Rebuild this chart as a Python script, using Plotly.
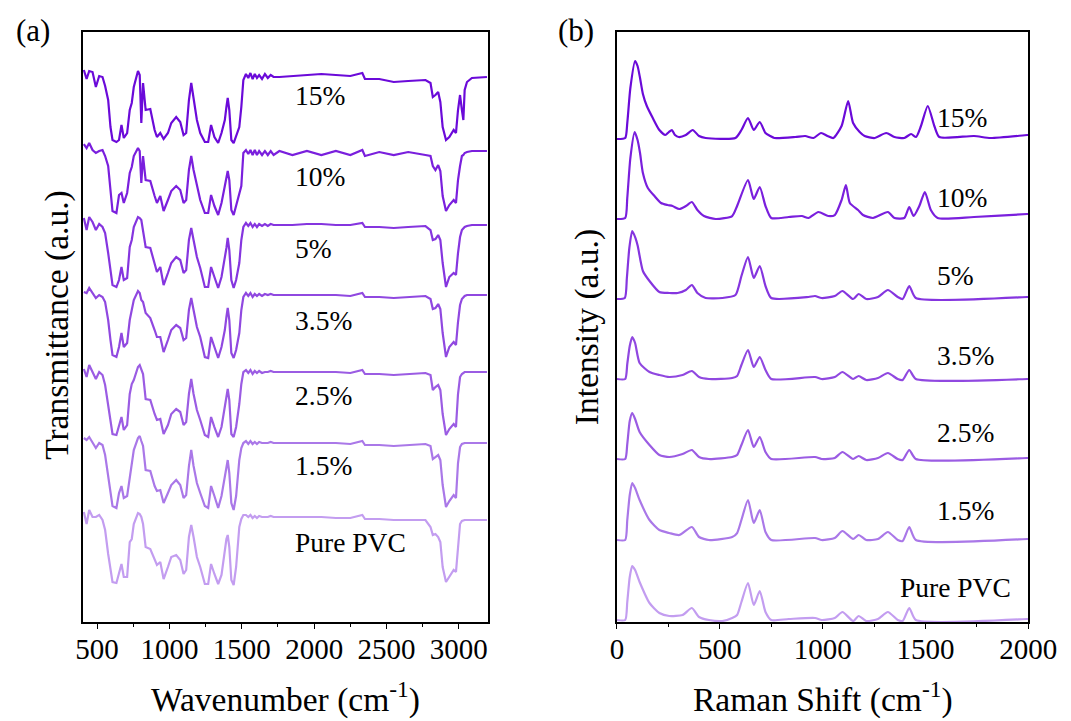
import plotly.graph_objects as go

# ---------------- data ----------------
labels = ["Pure PVC", "1.5%", "2.5%", "3.5%", "5%", "10%", "15%"]
colors = ["#C39DF0", "#AA78E8", "#9B5CE3", "#9048E0", "#8535DF", "#7A1FDD", "#6B0AD9"]

ft_x = [409, 428, 446, 469, 492, 515, 538, 556, 577, 593,
        607, 634, 652, 669, 685, 708, 726, 740, 754, 783,
        795, 806, 818, 836, 868, 898, 914, 937, 960, 990,
        1013, 1047, 1075, 1098, 1116, 1135, 1151, 1167, 1190, 1213,
        1245, 1268, 1288, 1311, 1337, 1360, 1383, 1394, 1403, 1414,
        1428, 1444, 1461, 1483, 1497, 1511, 1529, 1545, 1560, 1575,
        1590, 1605, 1620, 1640, 1660, 1680, 1700, 1720, 1760, 1850,
        1950, 2050, 2150, 2250, 2333, 2351, 2450, 2550, 2650, 2769,
        2804, 2820, 2838, 2857, 2872, 2888, 2911, 2934, 2964, 2980,
        2994, 3008, 3021, 3031, 3040, 3056, 3090, 3194]

ft_offsets = [105, 179, 250, 327, 397, 469, 546]

ft_pure = [5, -7, 7, 0, 0, 2, -3, -13, -37, -52,
           -65, -66, -57, -47, -60, -60, -25, -22, -7, 4,
           3, 0, -7, -30, -32, -43, -48, -45, -62, -50,
           -40, -38, -43, -57, -53, -20, -8, -20, -40, -50,
           -67, -67, -47, -57, -67, -58, -33, -22, -18, -30,
           -63, -68, -50, -10, -2, 2, 2, 0, 2, -1,
           1, -1, 1, 0, 0, 0, 1, 0, 0, 0,
           0, 0, -1, -1, 2, -2, -2, -3, -3, -3,
           -10, -18, -17, -20, -25, -50, -65, -60, -53, -55,
           -30, -7, -4, -3, -3, -3, -3, -3]
ft_1p5 = [5, 3, 6, 0, -5, 0, -2, -12, -33, -50,
          -63, -65, -50, -43, -55, -53, -33, -20, -7, 5,
          7, 2, -3, -27, -28, -43, -48, -47, -60, -50,
          -42, -37, -42, -55, -52, -23, -7, -23, -40, -50,
          -63, -65, -43, -53, -65, -53, -33, -23, -17, -30,
          -60, -67, -53, -17, -5, 0, 2, -1, 2, -1,
          1, -1, 1, 0, 0, 0, 1, 0, 0, 0,
          0, 0, 0, -1, 2, -2, -2, -3, -2, -1,
          -3, -16, -14, -12, -17, -42, -64, -58, -52, -55,
          -20, -4, -1, 0, 0, 0, 0, 0]
ft_2p5 = [3, -5, 7, 0, -7, 0, -3, -13, -35, -50,
          -62, -63, -55, -45, -58, -53, -22, -12, -8, 5,
          7, 3, -2, -27, -28, -42, -48, -47, -62, -53,
          -42, -37, -40, -53, -50, -22, -7, -22, -38, -48,
          -63, -65, -45, -55, -65, -55, -35, -22, -17, -28,
          -62, -65, -55, -32, -12, 0, 2, -1, 2, -2,
          1, -1, 1, -1, 0, 0, 1, 0, 0, 0,
          0, 0, 0, -1, 2, -2, -2, -3, -2, -1,
          -3, -18, -15, -13, -18, -42, -63, -57, -52, -55,
          -22, -5, -2, -1, 0, 0, 0, 0]
ft_3p5 = [3, 2, 7, 2, -3, 0, -2, -7, -25, -45,
          -60, -62, -52, -38, -52, -48, -25, -15, -5, 4,
          2, -5, -7, -18, -23, -35, -42, -42, -57, -45,
          -35, -30, -33, -45, -43, -15, -3, -15, -32, -42,
          -62, -63, -42, -52, -63, -52, -35, -22, -13, -25,
          -58, -63, -55, -38, -15, -2, 2, -1, 2, -2,
          1, -1, 1, -1, 1, 0, 1, 0, 0, 0,
          0, 0, 0, -1, 2, -2, -2, -3, -2, -1,
          -4, -14, -13, -9, -14, -38, -62, -52, -47, -50,
          -27, -10, -4, -2, -1, 0, 0, 0]
ft_5 = [7, -5, 8, 3, -5, 1, -2, -8, -28, -48,
        -60, -62, -55, -42, -55, -53, -22, -15, -2, 8,
        7, 5, -5, -22, -23, -38, -47, -42, -60, -48,
        -38, -32, -35, -48, -45, -15, -3, -15, -32, -43,
        -62, -62, -42, -52, -63, -52, -35, -23, -13, -25,
        -55, -63, -55, -38, -15, -2, 2, -1, 2, -2,
        1, -2, 1, -1, 1, -1, 1, 0, 0, 0,
        1, 1, 0, 0, 2, -2, -2, -3, -2, -1,
        -5, -15, -14, -10, -15, -38, -62, -52, -48, -50,
        -28, -12, -5, -3, -2, -1, 0, 0]
ft_10 = [9, 5, 10, 3, 0, 2, 3, -3, -13, -40,
         -58, -60, -42, -40, -50, -40, -20, -14, -3, 5,
         2, -30, -3, -27, -28, -43, -50, -43, -58, -47,
         -38, -33, -37, -50, -47, -17, -3, -17, -33, -47,
         -60, -60, -42, -53, -62, -50, -33, -23, -18, -27,
         -57, -62, -53, -43, -33, 0, 3, -1, 3, -2,
         3, -2, 2, -2, 2, -2, 2, -2, 2, -2,
         2, -2, 2, -2, 3, -3, 1, -2, 1, -2,
         -3, -13, -17, -12, -18, -43, -58, -52, -47, -50,
         -27, -13, -3, -2, 0, 1, 2, 2]
ft_15 = [6, -3, 5, 4, -11, 0, -1, -10, -24, -51,
         -64, -66, -64, -49, -62, -57, -34, -27, -11, 5,
         1, -47, -7, -34, -33, -54, -61, -57, -63, -57,
         -47, -41, -46, -59, -57, -24, -7, -24, -44, -57,
         -66, -66, -49, -61, -67, -57, -44, -31, -22, -34,
         -64, -67, -59, -51, -31, -4, 2, -2, 3, -3,
         2, -2, 1, -3, 2, -2, 1, -1, -1, 0,
         1, 2, 1, 0, 3, -3, -3, -6, -5, -4,
         -7, -21, -19, -16, -26, -51, -64, -61, -54, -57,
         -34, -19, -34, -44, -14, -6, -2, -1]

ft_series = [ft_pure, ft_1p5, ft_2p5, ft_3p5, ft_5, ft_10, ft_15]

rm_offsets = [2, 82, 163, 243, 324, 404, 484]

rm_pure = [(0, 0), (40, 0), (50, 18), (62, 43), (74, 54), (88, 50), (110, 38), (158, 17), (206, 7), (254, 4),
           (319, 5), (364, 12), (399, 3), (447, 0), (512, -1), (560, 2), (584, 5), (605, 18), (637, 37),
           (665, 15), (694, 29), (722, 8), (750, 0), (835, 1), (963, 2), (995, 0), (1059, 2), (1096, 8),
           (1148, -1), (1175, 4), (1212, -1), (1269, 1), (1317, 8), (1365, 0), (1389, -1), (1421, 12),
           (1453, 0), (1994, 1), (2000, 1)]
rm_1p5 = [(0, 0), (40, 0), (50, 20), (62, 45), (74, 57), (88, 52), (110, 40), (158, 20), (206, 10), (254, 7),
          (303, 5), (364, 13), (399, 3), (447, 0), (560, 3), (584, 7), (605, 20), (637, 40), (665, 17),
          (694, 30), (722, 8), (750, 0), (963, 2), (995, 0), (1059, 2), (1096, 9), (1148, 1), (1175, 5),
          (1212, 0), (1269, 1), (1317, 8), (1365, 0), (1389, -1), (1421, 13), (1453, 0), (1994, 1), (2000, 1)]
rm_2p5 = [(0, 0), (40, 0), (50, 15), (62, 38), (74, 46), (88, 40), (110, 27), (158, 14), (206, 4), (254, 2),
          (319, 5), (364, 9), (399, 2), (447, 0), (560, 2), (584, 4), (605, 14), (637, 29), (665, 12),
          (694, 22), (722, 7), (750, 0), (963, 2), (995, 0), (1059, 1), (1096, 7), (1148, 0), (1175, 3),
          (1212, -1), (1269, 1), (1317, 6), (1365, 0), (1389, -1), (1421, 9), (1453, 0), (1994, 1), (2000, 1)]
rm_3p5 = [(0, 0), (40, 0), (50, 15), (62, 33), (74, 42), (88, 36), (110, 16), (158, 7), (206, 4), (254, 2),
          (319, 4), (364, 8), (399, 2), (447, 0), (560, 1), (584, 3), (605, 14), (637, 29), (665, 12),
          (694, 22), (722, 9), (750, 0), (963, 2), (995, 0), (1059, 2), (1096, 7), (1148, 0), (1175, 3),
          (1212, -1), (1269, 1), (1317, 6), (1365, 0), (1389, -1), (1421, 9), (1453, 0), (1994, 0), (2000, 0)]
rm_5 = [(0, -1), (38, 0), (48, 20), (60, 50), (74, 67), (90, 60), (101, 52), (126, 27), (158, 17), (206, 6),
        (254, 5), (295, 5), (335, 8), (364, 13), (391, 5), (431, 0), (512, 0), (576, 3), (605, 22), (637, 41),
        (665, 20), (694, 32), (722, 12), (750, 0), (931, 1), (963, 2), (995, 0), (1059, 2), (1096, 7),
        (1148, -1), (1175, 4), (1212, -1), (1269, 1), (1317, 8), (1365, 1), (1389, -1), (1421, 12),
        (1453, 0), (1994, 1), (2000, 1)]
rm_10 = [(0, -1), (40, 0), (50, 20), (65, 60), (86, 86), (100, 78), (112, 65), (126, 45), (150, 30), (182, 22),
         (214, 15), (246, 13), (270, 12), (303, 9), (335, 12), (364, 16), (391, 8), (423, 2), (480, -1),
         (560, 2), (584, 12), (637, 38), (665, 19), (694, 31), (722, 12), (750, 0), (835, 1), (899, 2),
         (931, 0), (979, 6), (1027, 2), (1059, 3), (1092, 18), (1113, 33), (1132, 15), (1172, 8), (1196, 3),
         (1245, 0), (1317, 6), (1349, 0), (1397, 0), (1421, 11), (1442, 2), (1470, 12), (1497, 26),
         (1526, 8), (1559, 0), (1736, 1), (1994, 4), (2000, 4)]
rm_15 = [(0, -1), (40, 0), (50, 15), (65, 50), (88, 77), (100, 72), (112, 60), (126, 44), (145, 32), (174, 20),
         (206, 8), (235, 3), (252, 6), (267, 8), (282, 3), (300, 1), (335, 3), (368, 8), (399, 2), (431, 0),
         (576, 0), (605, 8), (637, 20), (665, 8), (694, 16), (722, 5), (745, 2), (765, 0), (867, 1), (915, 2),
         (955, 0), (992, 5), (1024, 2), (1052, 0), (1092, 12), (1124, 37), (1148, 15), (1180, 6), (1204, 2),
         (1253, 0), (1309, 5), (1349, 1), (1397, 0), (1430, 4), (1454, 1), (1478, 12), (1511, 32), (1543, 12),
         (1567, 1), (1736, 2), (1816, 0), (1994, 3), (2000, 3)]

rm_series = [rm_pure, rm_1p5, rm_2p5, rm_3p5, rm_5, rm_10, rm_15]

ft_label_x = [1855] * 7
ft_label_y = [80, 157, 227, 302, 374, 446, 527]
rm_label_x = [1365, 1545, 1545, 1545, 1545, 1545, 1545]
rm_label_y = [35, 112, 190, 267, 347, 425, 505]

# ---------------- figure ----------------
FONT = "Liberation Serif, Times New Roman, serif"
fig = go.Figure()

for i, lab in enumerate(labels):
    ys = [ft_offsets[i] + v for v in ft_series[i]]
    fig.add_trace(go.Scatter(x=ft_x, y=ys, mode="lines", name=lab,
                             line=dict(color=colors[i], width=2.2),
                             xaxis="x", yaxis="y", showlegend=False))
for i, lab in enumerate(labels):
    xs = [p[0] for p in rm_series[i]]
    ys = [rm_offsets[i] + p[1] for p in rm_series[i]]
    fig.add_trace(go.Scatter(x=xs, y=ys, mode="lines", name=lab,
                             line=dict(color=colors[i], width=2.2, shape="spline", smoothing=0.6),
                             xaxis="x2", yaxis="y2", showlegend=False))

axis_common = dict(showline=True, linecolor="black", linewidth=1.6, mirror=True,
                   showgrid=False, zeroline=False)

fig.update_layout(
    width=1100, height=721,
    margin=dict(l=0, r=0, t=0, b=0),
    paper_bgcolor="white", plot_bgcolor="white",
    font=dict(family=FONT, color="black"),
    xaxis=dict(domain=[0.0710, 0.4519], range=[400, 3200], anchor="y",
               tickmode="array", tickvals=[500, 1000, 1500, 2000, 2500, 3000],
               ticks="outside", ticklen=5, tickwidth=1.4, tickcolor="black",
               ticklabelstandoff=-5,
               tickfont=dict(family=FONT, size=29, color="black"),
               minor=dict(tickvals=[750, 1250, 1750, 2250, 2750], ticks="outside",
                          ticklen=3, tickwidth=1.2, tickcolor="black"),
               **axis_common),
    yaxis=dict(domain=[0.1373, 0.9556], range=[0, 590], anchor="x",
               showticklabels=False, ticks="", **axis_common),
    xaxis2=dict(domain=[0.5733, 0.9599], range=[0, 2000], anchor="y2",
                tickmode="array", tickvals=[0, 500, 1000, 1500, 2000],
                ticks="outside", ticklen=5, tickwidth=1.4, tickcolor="black",
                ticklabelstandoff=-5,
                tickfont=dict(family=FONT, size=29, color="black"),
                minor=dict(tickvals=[250, 750, 1250, 1750], ticks="outside",
                           ticklen=3, tickwidth=1.2, tickcolor="black"),
                **axis_common),
    yaxis2=dict(domain=[0.1373, 0.9556], range=[0, 590], anchor="x2",
                showticklabels=False, ticks="", **axis_common),
)

ann = []
for i, lab in enumerate(labels):
    ann.append(dict(x=ft_label_x[i], y=ft_label_y[i], xref="x", yref="y", text=lab,
                    showarrow=False, xanchor="left", yanchor="middle",
                    font=dict(family=FONT, size=27.5, color="black")))
    ann.append(dict(x=rm_label_x[i], y=rm_label_y[i], xref="x2", yref="y2", text=lab,
                    showarrow=False, xanchor="left", yanchor="middle",
                    font=dict(family=FONT, size=27.5, color="black")))

title_font = dict(family=FONT, size=33.5, color="black")
ann += [
    dict(x=0.2622, y=0.033, xref="paper", yref="paper", text="Wavenumber (cm<sup>-1</sup>)",
         showarrow=False, xanchor="center", yanchor="middle", font=title_font),
    dict(x=0.7672, y=0.033, xref="paper", yref="paper", text="Raman Shift (cm<sup>-1</sup>)",
         showarrow=False, xanchor="center", yanchor="middle", font=title_font),
    dict(x=0.0476, y=0.549, xref="paper", yref="paper", text="Transmittance (a.u.)",
         showarrow=False, xanchor="center", yanchor="middle", textangle=-90, font=title_font),
    dict(x=0.5453, y=0.5465, xref="paper", yref="paper", text="Intensity (a.u.)",
         showarrow=False, xanchor="center", yanchor="middle", textangle=-90, font=title_font),
    dict(x=0.024, y=0.958, xref="paper", yref="paper", text="(a)",
         showarrow=False, xanchor="center", yanchor="middle", font=dict(family=FONT, size=31, color="black")),
    dict(x=0.535, y=0.958, xref="paper", yref="paper", text="(b)",
         showarrow=False, xanchor="center", yanchor="middle", font=dict(family=FONT, size=31, color="black")),
]
fig.update_layout(annotations=ann)

fig.write_html("out.html")
